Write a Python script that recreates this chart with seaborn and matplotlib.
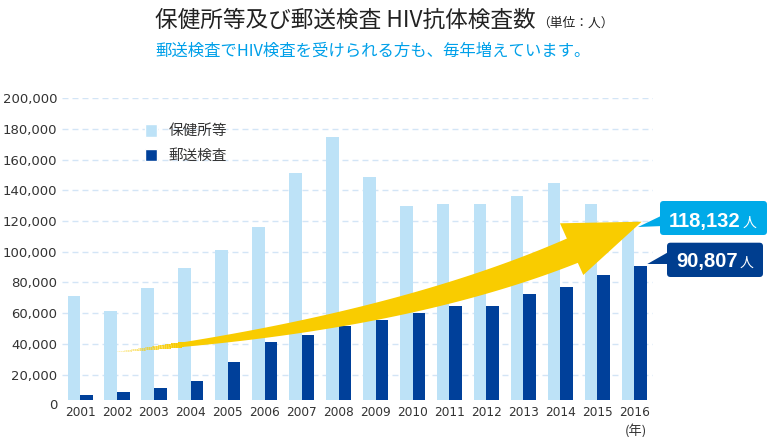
import matplotlib
matplotlib.use("Agg")
import matplotlib.pyplot as plt
from matplotlib import font_manager
from matplotlib.patches import Polygon, FancyBboxPatch, Patch
from matplotlib.collections import PolyCollection
from matplotlib.colors import to_rgba
from matplotlib.ticker import FuncFormatter
import numpy as np
import pandas as pd
import seaborn as sns

# データ
years = ['2001', '2002', '2003', '2004', '2005', '2006', '2007', '2008',
         '2009', '2010', '2011', '2012', '2013', '2014', '2015', '2016']
hokenjo = [71200, 61400, 76400, 89400, 101200, 116200, 151300, 174800,
           148700, 129800, 131100, 131100, 136400, 144800, 131100, 118132]
yuso = [6700, 8700, 11300, 15800, 28200, 41200, 45800, 51700,
        55600, 60100, 64700, 64700, 72500, 77100, 84900, 90807]
series = ['保健所等', '郵送検査']
latest_labels = ['118,132', '90,807']

title = '保健所等及び郵送検査 HIV抗体検査数'
unit = '（単位：人）'
subtitle = '郵送検査でHIV検査を受けられる方も、毎年増えています。'

LIGHT = '#bde2f7'
DARK = '#00409a'
CYAN = '#00aae8'
NAVY = '#003e8f'
YELLOW = '#f9cc00'
TXT = '#333333'
JP = ['Noto Sans CJK JP', 'DejaVu Sans']

installed = {f.name for f in font_manager.fontManager.ttflist}
NUMFONT = 'Liberation Sans Narrow' if 'Liberation Sans Narrow' in installed else 'Liberation Sans'
NUMSIZE = 16.5 if NUMFONT == 'Liberation Sans Narrow' else 14.5

W, H, DPI = 770, 437, 100


def pt(x, y):
    # ピクセル(左上原点) -> インチ(左下原点)
    return (x / DPI, (H - y) / DPI)


df = pd.DataFrame({
    'year': years * 2,
    'count': hokenjo + yuso,
    'kind': [series[0]] * len(years) + [series[1]] * len(years),
})

sns.set_style('white')
plt.rcParams['font.family'] = ['DejaVu Sans', 'Noto Sans CJK JP']

fig = plt.figure(figsize=(W / DPI, H / DPI), dpi=DPI)
ax = fig.add_axes([62 / W, 1 - 400 / H, 591 / W, (400 - 98.3) / H])

sns.barplot(data=df, x='year', y='count', hue='kind', palette=[LIGHT, DARK],
            saturation=1, width=0.68, gap=0, errorbar=None, legend=False,
            linewidth=0, ax=ax)

ax.set_xlim(-0.49, 15.51)
ax.set_ylim(3450, 200000)
ax.set_yticks(range(20000, 200001, 20000))
ax.yaxis.set_major_formatter(FuncFormatter(lambda v, p: f'{int(v):,}'))
ax.set_xlabel('')
ax.set_ylabel('')
ax.tick_params(axis='y', length=0, pad=3.6, labelsize=9.5, labelcolor=TXT)
ax.tick_params(axis='x', length=0, pad=4.5, labelsize=8.7, labelcolor=TXT)
for s in ax.spines.values():
    s.set_visible(False)
ax.yaxis.grid(True, color='#d3e5f6', linewidth=1.0, linestyle=(0, (4.3, 2.9)))
ax.xaxis.grid(False)
ax.set_axisbelow(True)
ax.text(-5 / 591, 0, '0', transform=ax.get_yaxis_transform(), ha='right',
        va='center', fontsize=9.5, color=TXT, clip_on=False)

# 凡例
handles = [Patch(facecolor=LIGHT), Patch(facecolor=DARK)]
leg = ax.legend(handles, series, loc='upper left', bbox_to_anchor=pt(145, 124),
                bbox_transform=fig.dpi_scale_trans, frameon=False,
                prop={'family': JP, 'size': 10.5}, handlelength=0.82,
                handleheight=0.96, handletextpad=0.8, labelspacing=0.7,
                borderpad=0, borderaxespad=0)
for t in leg.get_texts():
    t.set_color(TXT)

# 黄色の矢印
P0 = np.array([117.0, 352.0])
P1 = np.array([397.0, 324.0])
P2 = np.array([574.0, 250.0])
u = np.linspace(0, 1, 240)
cen = ((1 - u) ** 2)[:, None] * P0 + (2 * u * (1 - u))[:, None] * P1 + (u ** 2)[:, None] * P2
der = (2 * (1 - u))[:, None] * (P1 - P0) + (2 * u)[:, None] * (P2 - P1)
der = der / np.linalg.norm(der, axis=1)[:, None]
nrm = np.stack([-der[:, 1], der[:, 0]], axis=1)
half = (40 * u - 13.3 * u ** 2) / 2
upper = cen - nrm * half[:, None]
lower = cen + nrm * half[:, None]


def to_in(arr):
    return np.column_stack([arr[:, 0] / DPI, (H - arr[:, 1]) / DPI])


up_in, lo_in = to_in(upper), to_in(lower)
k = int(np.searchsorted(u, 0.12))
quads, cols = [], []
for i in range(k):
    quads.append([up_in[i], up_in[i + 1], lo_in[i + 1], lo_in[i]])
    a = min(1.0, ((u[i] + u[i + 1]) / 2 / 0.12) ** 1.3)
    cols.append(to_rgba(YELLOW, 0.12 + 0.88 * a))
fig.add_artist(PolyCollection(quads, facecolors=cols, edgecolors='none',
                              antialiased=False, transform=fig.dpi_scale_trans))
body = np.vstack([up_in[k:], lo_in[k:][::-1]])
fig.add_artist(Polygon(body, closed=True, fc=YELLOW, ec='none', transform=fig.dpi_scale_trans))
head = [pt(560, 223.3), pt(641.7, 221.7), pt(583.3, 275)]
fig.add_artist(Polygon(head, closed=True, fc=YELLOW, ec='none', transform=fig.dpi_scale_trans))


# 吹き出し
def callout(x0, y0, x1, y1, pointer, color, label, base_y):
    box = FancyBboxPatch(pt(x0, y1), (x1 - x0) / DPI, (y1 - y0) / DPI,
                         boxstyle='round,pad=0,rounding_size=0.035',
                         fc=color, ec='none', transform=fig.dpi_scale_trans)
    fig.add_artist(box)
    fig.add_artist(Polygon([pt(*p) for p in pointer], closed=True, fc=color,
                           ec='none', transform=fig.dpi_scale_trans))
    t = fig.text(*pt(x0 + 9, base_y), label, transform=fig.dpi_scale_trans,
                 family=NUMFONT, fontsize=NUMSIZE, fontweight='bold',
                 color='white', va='baseline', ha='left')
    return t


num1 = callout(660, 201, 767, 235, [(663, 215), (638, 227), (663, 226)],
               CYAN, latest_labels[0], 226.7)
num2 = callout(667, 242.7, 763, 277, [(669, 251.7), (647.3, 264), (669, 264)],
               NAVY, latest_labels[1], 267.3)

# タイトル
t_main = fig.text(*pt(155, 27), title, transform=fig.dpi_scale_trans,
                  family=JP, fontsize=16.3, color='#222222', va='baseline')
fig.text(*pt(155, 56), subtitle, transform=fig.dpi_scale_trans,
         family=JP, fontsize=11.8, color='#00a0e9', va='baseline')
fig.text(*pt(636, 431), '(年)', transform=fig.dpi_scale_trans,
         family=JP, fontsize=9.5, color=TXT, ha='center', va='center')

fig.canvas.draw()
r = fig.canvas.get_renderer()
bb = t_main.get_window_extent(r)
fig.text(bb.x1 / DPI + 0.01, (H - 26.5) / DPI, unit, transform=fig.dpi_scale_trans,
         family=JP, fontsize=9.2, color='#222222', va='baseline')
for num, yb in [(num1, 226.5), (num2, 267)]:
    nb = num.get_window_extent(r)
    fig.text(nb.x1 / DPI + 0.02, (H - yb) / DPI, '人', transform=fig.dpi_scale_trans,
             family=JP, fontsize=10, color='white', va='baseline')

fig.savefig('out.png', dpi=DPI)
